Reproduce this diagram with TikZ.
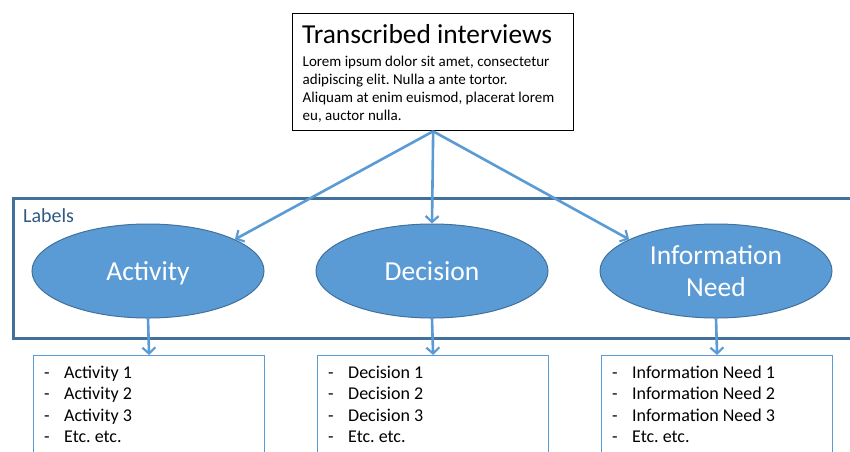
\documentclass[tikz,border=0pt]{standalone}
\usepackage{fontspec}
\setmainfont{Carlito}
\usetikzlibrary{shapes.geometric,arrows.meta}
\frenchspacing
\definecolor{accent}{HTML}{5B9BD5}
\definecolor{accentdark}{HTML}{41719C}
\definecolor{labelblue}{HTML}{2F5A84}
\tikzset{
  flow/.style={draw=accent, line width=2.6pt, -{Straight Barb[length=6pt,width=13pt,line width=2.2pt]}},
  category/.style={ellipse, draw=accentdark, line width=1pt, fill=accent, text=white,
    minimum width=232pt, minimum height=94pt, inner sep=0pt, align=center,
    text depth=0pt, font=\fontsize{27.5}{32}\selectfont},
  listbox/.style={draw=accent, line width=1.2pt, fill=white, inner sep=0pt, anchor=north west,
    minimum width=231pt, minimum height=110pt},
  listtext/.style={anchor=north west, inner sep=0pt, align=left,
    font=\fontsize{18}{21.5}\selectfont},
}
\newcommand{\itemlist}[1]{\begin{tabular}{@{}l@{}}#1\end{tabular}}
\newcommand{\dashitem}[1]{\makebox[20pt][l]{-}#1}
\begin{document}
\begin{tikzpicture}[x=1pt,y=-1pt]
  \useasboundingbox (0,0) rectangle (850,451);
  \clip (0,0) rectangle (850,451);
  \fill[white] (0,0) rectangle (850,451);

  % source box
  \node[draw=black, line width=1.3pt, anchor=north west, minimum width=281pt, minimum height=117pt, inner sep=0pt]
    (src) at (292,13) {};
  \node[anchor=base west, inner sep=0pt, font=\fontsize{27.4}{30}\selectfont] (srctitle) at (302,43.5) {Transcribed interviews};
  \node[anchor=north west, inner sep=0pt, align=left, font=\fontsize{15}{18}\selectfont] (srcbody) at (302.5,55.5)
    {Lorem ipsum dolor sit amet, consectetur\\adipiscing elit. Nulla a ante tortor.\\Aliquam at enim euismod, placerat lorem\\eu, auctor nulla.};

  % label frame
  \node[draw=accentdark, line width=2.6pt, anchor=north west, minimum width=860pt, minimum height=140pt, inner sep=0pt]
    (frame) at (12,197) {};
  \node[anchor=base west, inner sep=0pt, text=labelblue, font=\fontsize{20}{23}\selectfont] (framelabel) at (23,222) {Labels};

  % categories
  \node[category] (act) at (148,271) {Activity};
  \node[category] (dec) at (432,271) {Decision};
  \node[category] (info) at (716,271) {Information\\Need};

  % lists
  \node[listbox] (actlist) at (33,355) {};
  \node[listbox] (declist) at (317,355) {};
  \node[listbox] (infolist) at (601,355) {};
  \node[listtext] (acttext) at (44,363) {\itemlist{\dashitem{Activity 1}\\\dashitem{Activity 2}\\\dashitem{Activity 3}\\\dashitem{Etc. etc.}}};
  \node[listtext] (dectext) at (328,363) {\itemlist{\dashitem{Decision 1}\\\dashitem{Decision 2}\\\dashitem{Decision 3}\\\dashitem{Etc. etc.}}};
  \node[listtext] (infotext) at (612,363) {\itemlist{\dashitem{Information Need 1}\\\dashitem{Information Need 2}\\\dashitem{Information Need 3}\\\dashitem{Etc. etc.}}};

  % connectors
  \draw[flow] (src.south) -- (act.20);
  \draw[flow] (src.south) -- (dec.north);
  \draw[flow] (src.south) -- (info.160);
  \draw[flow] (act.south) -- (actlist.north);
  \draw[flow] (dec.south) -- (declist.north);
  \draw[flow] (info.south) -- (infolist.north);
\end{tikzpicture}
\end{document}
